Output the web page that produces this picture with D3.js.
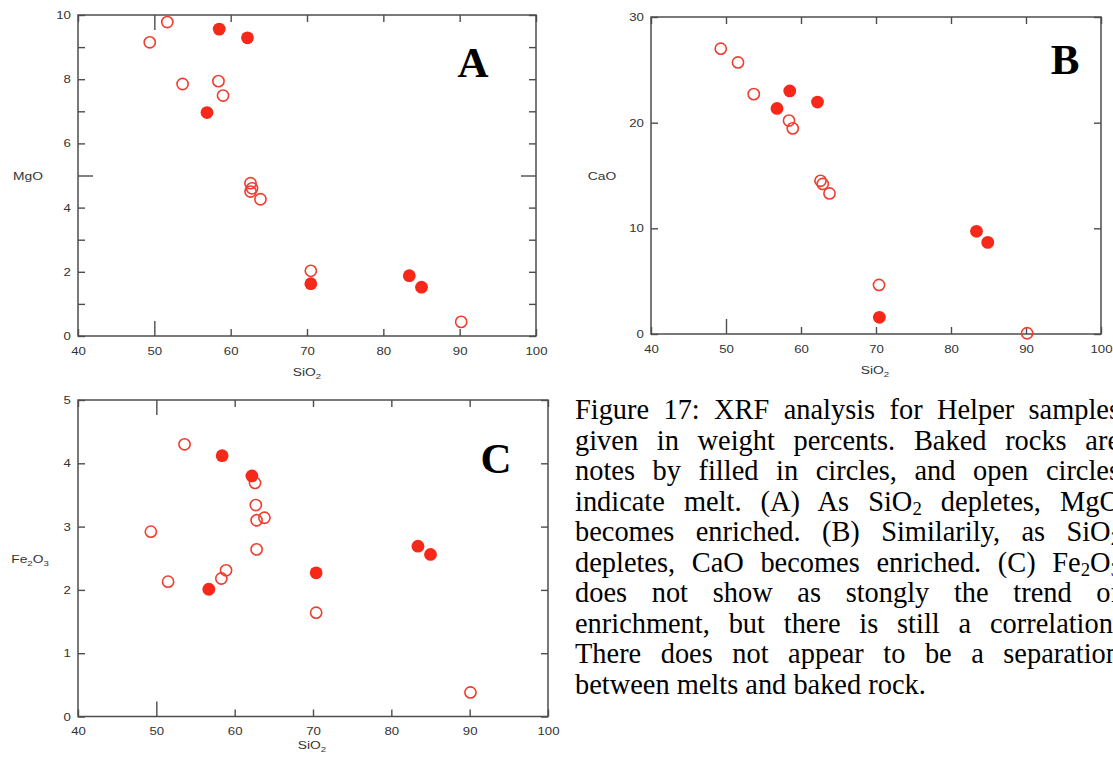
<!DOCTYPE html>
<html>
<head>
<meta charset="utf-8">
<script src="https://cdn.jsdelivr.net/npm/d3@7"></script>
<style>
html, body { margin: 0; padding: 0; width: 1113px; height: 761px; overflow: hidden; background: #fff; }
svg { position: absolute; left: 0; top: 0; }
.axis line { stroke: #4d4d4d; stroke-width: 1.4; }
.axis text { font-family: "Liberation Sans", Arial, sans-serif; font-size: 11px; fill: #333; }
.title { font-family: "Liberation Sans", Arial, sans-serif; font-size: 11.5px; fill: #333; }
.letter { font-family: "Liberation Serif", "Times New Roman", serif; font-weight: bold; font-size: 43px; fill: #000; }
#caption { position: absolute; left: 575px; top: 395px; width: 545px;
  font-family: "Liberation Serif", "Times New Roman", serif; font-size: 28.4px; line-height: 30.5px; color: #000; }
#caption div { text-align: justify; text-align-last: justify; white-space: nowrap; }
#caption div.last { text-align-last: left; }
#caption .sub { font-size: 0.66em; vertical-align: -0.22em; line-height: 0; }
</style>
</head>
<body>
<svg id="chart" width="1113" height="761"></svg>
<div id="caption">
  <div>Figure 17: XRF analysis for Helper samples</div>
  <div>given in weight percents. Baked rocks are</div>
  <div>notes by filled in circles, and open circles</div>
  <div>indicate melt. (A) As SiO<span class="sub">2</span> depletes, MgO</div>
  <div>becomes enriched. (B) Similarily, as SiO<span class="sub">2</span></div>
  <div>depletes, CaO becomes enriched. (C) Fe<span class="sub">2</span>O<span class="sub">3</span></div>
  <div>does not show as stongly the trend of</div>
  <div>enrichment, but there is still a correlation.</div>
  <div>There does not appear to be a separation</div>
  <div class="last">between melts and baked rock.</div>
</div>
<script>
// tick values
var xTickValues = [40, 50, 60, 70, 80, 90, 100];
var yTicksA = [0, 1, 2, 3, 4, 5, 6, 7, 8, 9, 10];
var yLabelsA = [0, 2, 4, 6, 8, 10];
var yTicksB = [0, 10, 20, 30];
var yTicksC = [0, 1, 2, 3, 4, 5];

// A: MgO vs SiO2
var meltA_SiO2 = [49.4, 51.7, 53.7, 58.4, 59.0, 62.6, 62.8, 62.6, 63.9, 70.5, 90.2];
var meltA_MgO  = [9.15, 9.78, 7.85, 7.94, 7.49, 4.76, 4.6, 4.5, 4.26, 2.03, 0.44];
var bakedA_SiO2 = [58.5, 62.2, 56.9, 70.5, 83.4, 85.0];
var bakedA_MgO  = [9.56, 9.29, 6.96, 1.63, 1.88, 1.52];

// B: CaO vs SiO2
var meltB_SiO2 = [49.3, 51.6, 53.7, 58.4, 58.9, 62.6, 62.9, 63.8, 70.4, 90.15];
var meltB_CaO  = [27.0, 25.7, 22.7, 20.2, 19.46, 14.5, 14.2, 13.3, 4.64, 0.07];
var bakedB_SiO2 = [56.8, 58.5, 62.2, 83.4, 84.9, 70.45];
var bakedB_CaO  = [21.35, 23.0, 21.95, 9.72, 8.67, 1.58];

// C: Fe2O3 vs SiO2
var meltC_SiO2 = [53.6, 62.6, 62.7, 62.8, 63.8, 49.3, 62.8, 58.9, 58.3, 51.5, 70.4, 90.1];
var meltC_Fe2O3 = [4.30, 3.69, 3.34, 3.10, 3.14, 2.92, 2.64, 2.31, 2.18, 2.13, 1.64, 0.38];
var bakedC_SiO2 = [58.4, 62.2, 56.7, 70.4, 83.4, 85.0];
var bakedC_Fe2O3 = [4.12, 3.80, 2.01, 2.27, 2.69, 2.56];

var panels = [
  { letter: "A", left: 78, right: 536, top: 15, bottom: 336, yMax: 10,
    yTicks: yTicksA, yLabels: yLabelsA, longY: 5, longTop: 50, longBottom: 50,
    yTitle: ["MgO"], yTitlePos: [28, 180], xTitlePos: [307, 376], letterPos: [473, 77],
    melt: [meltA_SiO2, meltA_MgO], baked: [bakedA_SiO2, bakedA_MgO] },
  { letter: "B", left: 651, right: 1101, top: 17, bottom: 334, yMax: 30,
    yTicks: yTicksB, yLabels: yTicksB, longY: null, longTop: null, longBottom: 50,
    yTitle: ["CaO"], yTitlePos: [602, 180], xTitlePos: [875, 374], letterPos: [1065, 74],
    melt: [meltB_SiO2, meltB_CaO], baked: [bakedB_SiO2, bakedB_CaO] },
  { letter: "C", left: 78, right: 548, top: 400, bottom: 716.5, yMax: 5,
    yTicks: yTicksC, yLabels: yTicksC, longY: null, longTop: 50, longBottom: 50,
    yTitle: ["Fe", "2", "O", "3"], yTitlePos: [30, 563], xTitlePos: [312, 749], letterPos: [496, 473],
    melt: [meltC_SiO2, meltC_Fe2O3], baked: [bakedC_SiO2, bakedC_Fe2O3] }
];

var svg = d3.select("#chart");
var SHORT = 7, LONG = 15;

function subLabel(g, parts, cx, cy) {
  var t = g.append("g").attr("transform", "translate(" + cx + "," + cy + ") scale(1.2,1)")
    .append("text").attr("class", "title").attr("text-anchor", "middle");
  parts.forEach(function(p, i) {
    var s = t.append("tspan").text(p);
    if (i % 2 == 1) s.attr("font-size", "8px").attr("dy", 3);
    else if (i > 0) s.attr("dy", -3);
  });
}

panels.forEach(function(p) {
  var x = d3.scaleLinear().domain([40, 100]).range([p.left, p.right]);
  var y = d3.scaleLinear().domain([0, p.yMax]).range([p.bottom, p.top]);
  var g = svg.append("g");

  var axes = [
    { gen: d3.axisLeft(y).tickValues(p.yTicks).tickFormat(function(d) { return p.yLabels.indexOf(d) >= 0 ? d : ""; }).tickPadding(6),
      tr: "translate(" + p.left + ",0)", long: p.longY, dim: "x2", k: 1 },
    { gen: d3.axisRight(y).tickValues(p.yTicks).tickFormat(""),
      tr: "translate(" + p.right + ",0)", long: p.longY, dim: "x2", k: -1 },
    { gen: d3.axisBottom(x).tickValues(xTickValues).tickPadding(11),
      tr: "translate(0," + p.bottom + ")", long: p.longBottom, dim: "y2", k: -1 },
    { gen: d3.axisTop(x).tickValues(xTickValues).tickFormat(""),
      tr: "translate(0," + p.top + ")", long: p.longTop, dim: "y2", k: 1 }
  ];
  axes.forEach(function(a) {
    var ag = g.append("g").attr("class", "axis").attr("transform", a.tr)
      .call(a.gen.tickSize(-SHORT).tickSizeOuter(0));
    ag.select(".domain").remove();
    ag.selectAll(".tick text").attr("transform", "scale(1.2,1)");
    ag.selectAll(".tick").filter(function(d) { return d === a.long; })
      .select("line").attr(a.dim, a.k * LONG);
  });

  g.append("rect")
    .attr("x", p.left).attr("y", p.top)
    .attr("width", p.right - p.left).attr("height", p.bottom - p.top)
    .attr("fill", "none").attr("stroke", "#4d4d4d").attr("stroke-width", 1.5);

  subLabel(g, p.yTitle, p.yTitlePos[0], p.yTitlePos[1]);
  subLabel(g, ["SiO", "2"], p.xTitlePos[0], p.xTitlePos[1]);

  g.append("text").attr("class", "letter").attr("text-anchor", "middle")
    .attr("x", p.letterPos[0]).attr("y", p.letterPos[1]).text(p.letter);

  g.selectAll(".melt").data(p.melt[0]).enter().append("circle")
    .attr("class", "melt")
    .attr("cx", function(d) { return x(d); })
    .attr("cy", function(d, i) { return y(p.melt[1][i]); })
    .attr("r", 5.6)
    .attr("fill", "none").attr("stroke", "#ef3d30").attr("stroke-width", 1.6);

  g.selectAll(".baked").data(p.baked[0]).enter().append("circle")
    .attr("class", "baked")
    .attr("cx", function(d) { return x(d); })
    .attr("cy", function(d, i) { return y(p.baked[1][i]); })
    .attr("r", 6.4)
    .attr("fill", "#f5281a");
});
</script>
</body>
</html>
